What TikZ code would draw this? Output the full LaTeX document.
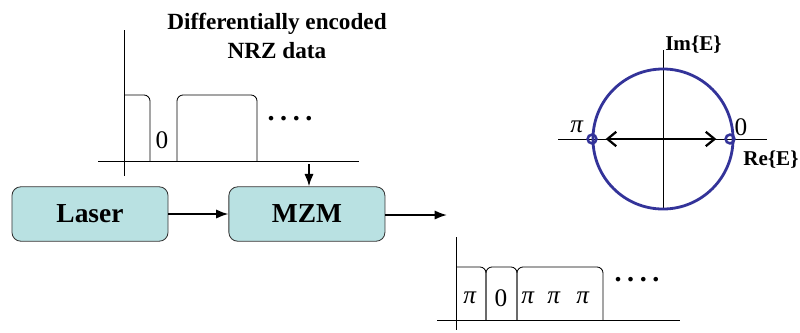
\documentclass[tikz,border=0pt]{standalone}
\usepackage{fontspec}
\setmainfont{Liberation Serif}
\usetikzlibrary{arrows.meta, positioning}
\definecolor{boxfill}{RGB}{185,225,226}
\definecolor{phasor}{RGB}{51,51,153}

\begin{document}
\begin{tikzpicture}[x=0.025cm, y=-0.025cm, >=Latex,
  blk/.style={draw=black!80, rounded corners=0.22cm, line width=0.6pt, fill=boxfill, minimum width=3.9cm, minimum height=1.36cm, font=\fontsize{19.5}{23}\selectfont\bfseries},
  wave/.style={line width=0.6pt, rounded corners=0.15cm},
  axis/.style={line width=0.5pt},
  sym/.style={font=\fontsize{18}{20}\selectfont, inner sep=0pt},
  lbl/.style={font=\fontsize{15}{17}\selectfont\bfseries, inner sep=0pt},
  dots/.style={font=\fontsize{20}{22}\selectfont\bfseries, inner sep=0pt},
  pt/.style={circle, draw=phasor, line width=1.8pt, minimum size=0.22cm, inner sep=0pt},
  flow/.style={->, line width=1.3pt}]
\useasboundingbox (0,0) rectangle (800,332);

% transmitter
\node[blk] (L) at (90,214) {Laser};
\node[blk, right=1.5cm of L] (M) {MZM};
\coordinate (in) at (309,164);
\coordinate (out) at (447,215);
\draw[flow] (L) -- (M);
\draw[flow] (in) -- (in |- M.north);
\draw[flow] (M.east |- out) -- (out);

% drive signal
\node[font=\fontsize{16.5}{20.5}\selectfont\bfseries, align=center] (T) at (277,36) {Differentially encoded\\NRZ data};
\draw[axis] (124,30) -- (124,176);
\draw[axis] (98,161) -- (359,161);
\draw[wave] (124,95) -- (150,95) -- (150,161);
\draw[wave] (177,161) -- (177,95) -- (257,95) -- (257,161);
\node[sym] (d0) at (162,140) {0};
\node[dots] (dt) at (290,119) {.\hspace{0.2em}.\hspace{0.2em}.\hspace{0.2em}.};

% optical phase
\draw[axis] (456,237) -- (456,330);
\draw[axis] (437,320) -- (680,320);
\draw[wave] (456,267) -- (486,267) -- (486,320);
\draw[wave] (486,320) -- (486,267) -- (517,267) -- (517,320);
\draw[wave] (517,320) -- (517,267) -- (603,267) -- (603,320);
\node[sym] (p1) at (470,298) {\textit{π}};
\node[sym] (p2) at (501,298) {0};
\node[sym] (p3) at (528,298) {\textit{π}};
\node[sym] (p4) at (554,298) {\textit{π}};
\node[sym] (p5) at (583,298) {\textit{π}};
\node[dots] (db) at (637,280) {.\hspace{0.2em}.\hspace{0.2em}.\hspace{0.2em}.};

% constellation
\draw[axis] (558,139) -- (767,139);
\draw[axis] (663,50) -- (663,210);
\draw[phasor, line width=2pt] (663,139) circle[radius=1.75cm];
\node[pt] (Pi) at (592,139) {};
\node[pt] (Z) at (730,139) {};
\draw[{Straight Barb[length=0.22cm, width=0.36cm]}-{Straight Barb[length=0.22cm, width=0.36cm]}, line width=1.6pt, shorten <=0.2cm, shorten >=0.2cm] (Pi) -- (Z);
\node[sym] (lpi) at (577,127) {\textit{π}};
\node[sym] (lz) at (741,127) {0};
\node[lbl, anchor=west] (im) at (665,45) {Im\{E\}};
\node[lbl, anchor=west] (re) at (743,160) {Re\{E\}};
\end{tikzpicture}
\end{document}
